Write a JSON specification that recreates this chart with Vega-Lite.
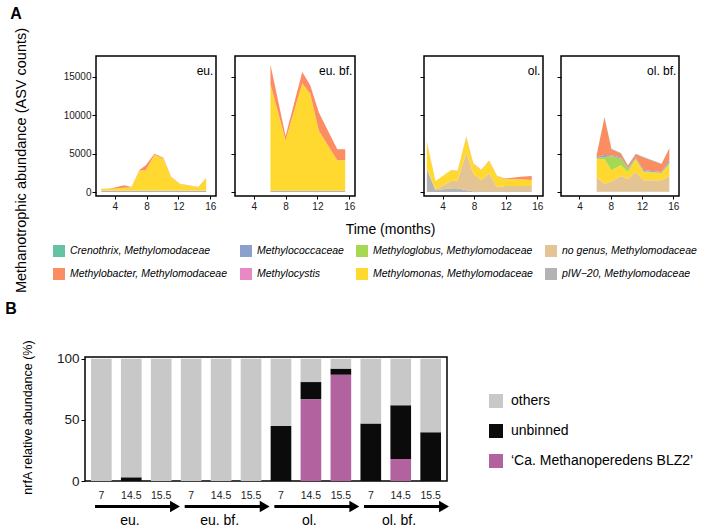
{
  "$schema": "https://vega.github.io/schema/vega-lite/v6.json",
  "background": "white",
  "padding": {"left": 5, "top": 5, "right": 5, "bottom": 0},
  "config": {
    "font": "Liberation Sans",
    "view": {"stroke": "black", "strokeWidth": 1.5},
    "axis": {"grid": false, "domain": false, "tickColor": "black", "tickSize": 4, "labelColor": "#1a1a1a", "titleColor": "black", "titleFontWeight": "normal", "labelFlush": false, "labelOverlap": false},
    "axisX": {"labelOverlap": false, "labelSeparation": 0},
    "title": {"color": "black"}
  },
  "datasets": {
    "abund": [
      {"p": "eu.", "t": 2.3, "s": "pIW−20, Methylomodaceae", "n": 120},
      {"p": "eu.", "t": 2.3, "s": "no genus, Methylomodaceae", "n": 60},
      {"p": "eu.", "t": 2.3, "s": "Methylomonas, Methylomodaceae", "n": 250},
      {"p": "eu.", "t": 3.4, "s": "pIW−20, Methylomodaceae", "n": 120},
      {"p": "eu.", "t": 3.4, "s": "no genus, Methylomodaceae", "n": 60},
      {"p": "eu.", "t": 3.4, "s": "Methylomonas, Methylomodaceae", "n": 250},
      {"p": "eu.", "t": 3.4, "s": "Methylobacter, Methylomodaceae", "n": 20},
      {"p": "eu.", "t": 5.2, "s": "pIW−20, Methylomodaceae", "n": 120},
      {"p": "eu.", "t": 5.2, "s": "no genus, Methylomodaceae", "n": 60},
      {"p": "eu.", "t": 5.2, "s": "Methylomonas, Methylomodaceae", "n": 380},
      {"p": "eu.", "t": 5.2, "s": "Methylobacter, Methylomodaceae", "n": 310},
      {"p": "eu.", "t": 6.1, "s": "pIW−20, Methylomodaceae", "n": 120},
      {"p": "eu.", "t": 6.1, "s": "no genus, Methylomodaceae", "n": 60},
      {"p": "eu.", "t": 6.1, "s": "Methylomonas, Methylomodaceae", "n": 430},
      {"p": "eu.", "t": 6.1, "s": "Methylobacter, Methylomodaceae", "n": 40},
      {"p": "eu.", "t": 7.1, "s": "pIW−20, Methylomodaceae", "n": 120},
      {"p": "eu.", "t": 7.1, "s": "no genus, Methylomodaceae", "n": 60},
      {"p": "eu.", "t": 7.1, "s": "Methylomonas, Methylomodaceae", "n": 2620},
      {"p": "eu.", "t": 7.1, "s": "Methylobacter, Methylomodaceae", "n": 80},
      {"p": "eu.", "t": 7.9, "s": "pIW−20, Methylomodaceae", "n": 120},
      {"p": "eu.", "t": 7.9, "s": "no genus, Methylomodaceae", "n": 60},
      {"p": "eu.", "t": 7.9, "s": "Methylomonas, Methylomodaceae", "n": 2640},
      {"p": "eu.", "t": 7.9, "s": "Methylobacter, Methylomodaceae", "n": 650},
      {"p": "eu.", "t": 9.0, "s": "pIW−20, Methylomodaceae", "n": 120},
      {"p": "eu.", "t": 9.0, "s": "no genus, Methylomodaceae", "n": 60},
      {"p": "eu.", "t": 9.0, "s": "Methylomonas, Methylomodaceae", "n": 4670},
      {"p": "eu.", "t": 9.0, "s": "Methylobacter, Methylomodaceae", "n": 130},
      {"p": "eu.", "t": 10.1, "s": "pIW−20, Methylomodaceae", "n": 120},
      {"p": "eu.", "t": 10.1, "s": "no genus, Methylomodaceae", "n": 60},
      {"p": "eu.", "t": 10.1, "s": "Methylomonas, Methylomodaceae", "n": 4150},
      {"p": "eu.", "t": 10.1, "s": "Methylobacter, Methylomodaceae", "n": 130},
      {"p": "eu.", "t": 11.1, "s": "pIW−20, Methylomodaceae", "n": 120},
      {"p": "eu.", "t": 11.1, "s": "no genus, Methylomodaceae", "n": 60},
      {"p": "eu.", "t": 11.1, "s": "Methylomonas, Methylomodaceae", "n": 1720},
      {"p": "eu.", "t": 11.1, "s": "Methylobacter, Methylomodaceae", "n": 50},
      {"p": "eu.", "t": 12.2, "s": "pIW−20, Methylomodaceae", "n": 120},
      {"p": "eu.", "t": 12.2, "s": "no genus, Methylomodaceae", "n": 60},
      {"p": "eu.", "t": 12.2, "s": "Methylomonas, Methylomodaceae", "n": 860},
      {"p": "eu.", "t": 12.2, "s": "Methylobacter, Methylomodaceae", "n": 40},
      {"p": "eu.", "t": 14.5, "s": "pIW−20, Methylomodaceae", "n": 120},
      {"p": "eu.", "t": 14.5, "s": "no genus, Methylomodaceae", "n": 60},
      {"p": "eu.", "t": 14.5, "s": "Methylomonas, Methylomodaceae", "n": 440},
      {"p": "eu.", "t": 14.5, "s": "Methylobacter, Methylomodaceae", "n": 30},
      {"p": "eu.", "t": 15.5, "s": "pIW−20, Methylomodaceae", "n": 120},
      {"p": "eu.", "t": 15.5, "s": "no genus, Methylomodaceae", "n": 60},
      {"p": "eu.", "t": 15.5, "s": "Methylomonas, Methylomodaceae", "n": 1580},
      {"p": "eu.", "t": 15.5, "s": "Methylobacter, Methylomodaceae", "n": 60},

      {"p": "eu. bf.", "t": 6.1, "s": "pIW−20, Methylomodaceae", "n": 150},
      {"p": "eu. bf.", "t": 6.1, "s": "Methylomonas, Methylomodaceae", "n": 13860},
      {"p": "eu. bf.", "t": 6.1, "s": "Methylobacter, Methylomodaceae", "n": 2600},
      {"p": "eu. bf.", "t": 8.0, "s": "pIW−20, Methylomodaceae", "n": 150},
      {"p": "eu. bf.", "t": 8.0, "s": "Methylomonas, Methylomodaceae", "n": 6570},
      {"p": "eu. bf.", "t": 8.0, "s": "Methylobacter, Methylomodaceae", "n": 570},
      {"p": "eu. bf.", "t": 10.1, "s": "pIW−20, Methylomodaceae", "n": 150},
      {"p": "eu. bf.", "t": 10.1, "s": "Methylomonas, Methylomodaceae", "n": 13990},
      {"p": "eu. bf.", "t": 10.1, "s": "Methylobacter, Methylomodaceae", "n": 1470},
      {"p": "eu. bf.", "t": 11.1, "s": "pIW−20, Methylomodaceae", "n": 150},
      {"p": "eu. bf.", "t": 11.1, "s": "Methylomonas, Methylomodaceae", "n": 12640},
      {"p": "eu. bf.", "t": 11.1, "s": "Methylobacter, Methylomodaceae", "n": 1090},
      {"p": "eu. bf.", "t": 12.2, "s": "pIW−20, Methylomodaceae", "n": 150},
      {"p": "eu. bf.", "t": 12.2, "s": "Methylomonas, Methylomodaceae", "n": 7790},
      {"p": "eu. bf.", "t": 12.2, "s": "Methylobacter, Methylomodaceae", "n": 2380},
      {"p": "eu. bf.", "t": 14.5, "s": "pIW−20, Methylomodaceae", "n": 150},
      {"p": "eu. bf.", "t": 14.5, "s": "Methylomonas, Methylomodaceae", "n": 3970},
      {"p": "eu. bf.", "t": 14.5, "s": "Methylobacter, Methylomodaceae", "n": 1430},
      {"p": "eu. bf.", "t": 15.5, "s": "pIW−20, Methylomodaceae", "n": 150},
      {"p": "eu. bf.", "t": 15.5, "s": "Methylomonas, Methylomodaceae", "n": 3970},
      {"p": "eu. bf.", "t": 15.5, "s": "Methylobacter, Methylomodaceae", "n": 1430},

      {"p": "ol.", "t": 2.0, "s": "pIW−20, Methylomodaceae", "n": 2950},
      {"p": "ol.", "t": 2.0, "s": "no genus, Methylomodaceae", "n": 100},
      {"p": "ol.", "t": 2.0, "s": "Methylomonas, Methylomodaceae", "n": 3390},
      {"p": "ol.", "t": 2.0, "s": "Methylobacter, Methylomodaceae", "n": 100},
      {"p": "ol.", "t": 3.1, "s": "pIW−20, Methylomodaceae", "n": 220},
      {"p": "ol.", "t": 3.1, "s": "no genus, Methylomodaceae", "n": 130},
      {"p": "ol.", "t": 3.1, "s": "Methylomonas, Methylomodaceae", "n": 1080},
      {"p": "ol.", "t": 5.1, "s": "pIW−20, Methylomodaceae", "n": 480},
      {"p": "ol.", "t": 5.1, "s": "no genus, Methylomodaceae", "n": 950},
      {"p": "ol.", "t": 5.1, "s": "Methylomonas, Methylomodaceae", "n": 1390},
      {"p": "ol.", "t": 5.1, "s": "Methylobacter, Methylomodaceae", "n": 50},
      {"p": "ol.", "t": 5.9, "s": "pIW−20, Methylomodaceae", "n": 480},
      {"p": "ol.", "t": 5.9, "s": "no genus, Methylomodaceae", "n": 1020},
      {"p": "ol.", "t": 5.9, "s": "Methylomonas, Methylomodaceae", "n": 1230},
      {"p": "ol.", "t": 5.9, "s": "Methylobacter, Methylomodaceae", "n": 50},
      {"p": "ol.", "t": 7.0, "s": "pIW−20, Methylomodaceae", "n": 220},
      {"p": "ol.", "t": 7.0, "s": "no genus, Methylomodaceae", "n": 4890},
      {"p": "ol.", "t": 7.0, "s": "Methylomonas, Methylomodaceae", "n": 1960},
      {"p": "ol.", "t": 7.0, "s": "Methylobacter, Methylomodaceae", "n": 130},
      {"p": "ol.", "t": 7.9, "s": "pIW−20, Methylomodaceae", "n": 100},
      {"p": "ol.", "t": 7.9, "s": "no genus, Methylomodaceae", "n": 2280},
      {"p": "ol.", "t": 7.9, "s": "Methylomonas, Methylomodaceae", "n": 1300},
      {"p": "ol.", "t": 7.9, "s": "Methylobacter, Methylomodaceae", "n": 60},
      {"p": "ol.", "t": 8.9, "s": "pIW−20, Methylomodaceae", "n": 100},
      {"p": "ol.", "t": 8.9, "s": "no genus, Methylomodaceae", "n": 1420},
      {"p": "ol.", "t": 8.9, "s": "Methylomonas, Methylomodaceae", "n": 1340},
      {"p": "ol.", "t": 8.9, "s": "Methylobacter, Methylomodaceae", "n": 50},
      {"p": "ol.", "t": 9.9, "s": "pIW−20, Methylomodaceae", "n": 100},
      {"p": "ol.", "t": 9.9, "s": "no genus, Methylomodaceae", "n": 2330},
      {"p": "ol.", "t": 9.9, "s": "Methylomonas, Methylomodaceae", "n": 1600},
      {"p": "ol.", "t": 9.9, "s": "Methylobacter, Methylomodaceae", "n": 80},
      {"p": "ol.", "t": 10.9, "s": "pIW−20, Methylomodaceae", "n": 100},
      {"p": "ol.", "t": 10.9, "s": "no genus, Methylomodaceae", "n": 550},
      {"p": "ol.", "t": 10.9, "s": "Methylomonas, Methylomodaceae", "n": 1430},
      {"p": "ol.", "t": 10.9, "s": "Methylobacter, Methylomodaceae", "n": 50},
      {"p": "ol.", "t": 11.9, "s": "pIW−20, Methylomodaceae", "n": 100},
      {"p": "ol.", "t": 11.9, "s": "no genus, Methylomodaceae", "n": 680},
      {"p": "ol.", "t": 11.9, "s": "Methylomonas, Methylomodaceae", "n": 870},
      {"p": "ol.", "t": 11.9, "s": "Methylobacter, Methylomodaceae", "n": 100},
      {"p": "ol.", "t": 13.9, "s": "pIW−20, Methylomodaceae", "n": 100},
      {"p": "ol.", "t": 13.9, "s": "no genus, Methylomodaceae", "n": 680},
      {"p": "ol.", "t": 13.9, "s": "Methylomonas, Methylomodaceae", "n": 870},
      {"p": "ol.", "t": 13.9, "s": "Methylobacter, Methylomodaceae", "n": 340},
      {"p": "ol.", "t": 15.3, "s": "pIW−20, Methylomodaceae", "n": 100},
      {"p": "ol.", "t": 15.3, "s": "no genus, Methylomodaceae", "n": 680},
      {"p": "ol.", "t": 15.3, "s": "Methylomonas, Methylomodaceae", "n": 780},
      {"p": "ol.", "t": 15.3, "s": "Methylobacter, Methylomodaceae", "n": 520},

      {"p": "ol. bf.", "t": 6.2, "s": "pIW−20, Methylomodaceae", "n": 50},
      {"p": "ol. bf.", "t": 6.2, "s": "no genus, Methylomodaceae", "n": 1900},
      {"p": "ol. bf.", "t": 6.2, "s": "Methylomonas, Methylomodaceae", "n": 2380},
      {"p": "ol. bf.", "t": 6.2, "s": "Methyloglobus, Methylomodaceae", "n": 100},
      {"p": "ol. bf.", "t": 6.2, "s": "Methylococcaceae", "n": 100},
      {"p": "ol. bf.", "t": 6.2, "s": "Methylobacter, Methylomodaceae", "n": 270},
      {"p": "ol. bf.", "t": 6.2, "s": "Crenothrix, Methylomodaceae", "n": 50},
      {"p": "ol. bf.", "t": 7.2, "s": "pIW−20, Methylomodaceae", "n": 50},
      {"p": "ol. bf.", "t": 7.2, "s": "no genus, Methylomodaceae", "n": 1030},
      {"p": "ol. bf.", "t": 7.2, "s": "Methylomonas, Methylomodaceae", "n": 3170},
      {"p": "ol. bf.", "t": 7.2, "s": "Methyloglobus, Methylomodaceae", "n": 300},
      {"p": "ol. bf.", "t": 7.2, "s": "Methylococcaceae", "n": 250},
      {"p": "ol. bf.", "t": 7.2, "s": "Methylobacter, Methylomodaceae", "n": 4900},
      {"p": "ol. bf.", "t": 7.2, "s": "Crenothrix, Methylomodaceae", "n": 50},
      {"p": "ol. bf.", "t": 8.1, "s": "pIW−20, Methylomodaceae", "n": 50},
      {"p": "ol. bf.", "t": 8.1, "s": "no genus, Methylomodaceae", "n": 1340},
      {"p": "ol. bf.", "t": 8.1, "s": "Methylomonas, Methylomodaceae", "n": 1430},
      {"p": "ol. bf.", "t": 8.1, "s": "Methyloglobus, Methylomodaceae", "n": 1860},
      {"p": "ol. bf.", "t": 8.1, "s": "Methylococcaceae", "n": 90},
      {"p": "ol. bf.", "t": 8.1, "s": "Methylobacter, Methylomodaceae", "n": 810},
      {"p": "ol. bf.", "t": 8.1, "s": "Crenothrix, Methylomodaceae", "n": 50},
      {"p": "ol. bf.", "t": 9.3, "s": "pIW−20, Methylomodaceae", "n": 50},
      {"p": "ol. bf.", "t": 9.3, "s": "no genus, Methylomodaceae", "n": 2030},
      {"p": "ol. bf.", "t": 9.3, "s": "Methylomonas, Methylomodaceae", "n": 1390},
      {"p": "ol. bf.", "t": 9.3, "s": "Methyloglobus, Methylomodaceae", "n": 860},
      {"p": "ol. bf.", "t": 9.3, "s": "Methylococcaceae", "n": 150},
      {"p": "ol. bf.", "t": 9.3, "s": "Methylobacter, Methylomodaceae", "n": 540},
      {"p": "ol. bf.", "t": 9.3, "s": "Crenothrix, Methylomodaceae", "n": 50},
      {"p": "ol. bf.", "t": 10.2, "s": "pIW−20, Methylomodaceae", "n": 50},
      {"p": "ol. bf.", "t": 10.2, "s": "no genus, Methylomodaceae", "n": 1680},
      {"p": "ol. bf.", "t": 10.2, "s": "Methylomonas, Methylomodaceae", "n": 870},
      {"p": "ol. bf.", "t": 10.2, "s": "Methyloglobus, Methylomodaceae", "n": 430},
      {"p": "ol. bf.", "t": 10.2, "s": "Methylococcaceae", "n": 100},
      {"p": "ol. bf.", "t": 10.2, "s": "Methylobacter, Methylomodaceae", "n": 290},
      {"p": "ol. bf.", "t": 10.2, "s": "Crenothrix, Methylomodaceae", "n": 50},
      {"p": "ol. bf.", "t": 11.2, "s": "pIW−20, Methylomodaceae", "n": 50},
      {"p": "ol. bf.", "t": 11.2, "s": "no genus, Methylomodaceae", "n": 2550},
      {"p": "ol. bf.", "t": 11.2, "s": "Methylomonas, Methylomodaceae", "n": 1730},
      {"p": "ol. bf.", "t": 11.2, "s": "Methylococcaceae", "n": 200},
      {"p": "ol. bf.", "t": 11.2, "s": "Methylobacter, Methylomodaceae", "n": 400},
      {"p": "ol. bf.", "t": 11.2, "s": "Crenothrix, Methylomodaceae", "n": 50},
      {"p": "ol. bf.", "t": 12.2, "s": "pIW−20, Methylomodaceae", "n": 50},
      {"p": "ol. bf.", "t": 12.2, "s": "no genus, Methylomodaceae", "n": 1470},
      {"p": "ol. bf.", "t": 12.2, "s": "Methylomonas, Methylomodaceae", "n": 1080},
      {"p": "ol. bf.", "t": 12.2, "s": "Methyloglobus, Methylomodaceae", "n": 100},
      {"p": "ol. bf.", "t": 12.2, "s": "Methylococcaceae", "n": 150},
      {"p": "ol. bf.", "t": 12.2, "s": "Methylobacter, Methylomodaceae", "n": 1650},
      {"p": "ol. bf.", "t": 12.2, "s": "Crenothrix, Methylomodaceae", "n": 50},
      {"p": "ol. bf.", "t": 14.5, "s": "pIW−20, Methylomodaceae", "n": 50},
      {"p": "ol. bf.", "t": 14.5, "s": "no genus, Methylomodaceae", "n": 1470},
      {"p": "ol. bf.", "t": 14.5, "s": "Methylomonas, Methylomodaceae", "n": 950},
      {"p": "ol. bf.", "t": 14.5, "s": "Methyloglobus, Methylomodaceae", "n": 50},
      {"p": "ol. bf.", "t": 14.5, "s": "Methylococcaceae", "n": 80},
      {"p": "ol. bf.", "t": 14.5, "s": "Methylobacter, Methylomodaceae", "n": 1030},
      {"p": "ol. bf.", "t": 14.5, "s": "Crenothrix, Methylomodaceae", "n": 50},
      {"p": "ol. bf.", "t": 15.5, "s": "pIW−20, Methylomodaceae", "n": 50},
      {"p": "ol. bf.", "t": 15.5, "s": "no genus, Methylomodaceae", "n": 2030},
      {"p": "ol. bf.", "t": 15.5, "s": "Methylomonas, Methylomodaceae", "n": 1600},
      {"p": "ol. bf.", "t": 15.5, "s": "Methyloglobus, Methylomodaceae", "n": 150},
      {"p": "ol. bf.", "t": 15.5, "s": "Methylococcaceae", "n": 370},
      {"p": "ol. bf.", "t": 15.5, "s": "Methylobacter, Methylomodaceae", "n": 1470},
      {"p": "ol. bf.", "t": 15.5, "s": "Crenothrix, Methylomodaceae", "n": 50}
    ],
    "nrfa": [
      {"sample": "eu. 7", "c": "others", "v": 100},
      {"sample": "eu. 14.5", "c": "unbinned", "v": 3},
      {"sample": "eu. 14.5", "c": "others", "v": 97},
      {"sample": "eu. 15.5", "c": "others", "v": 100},
      {"sample": "eu. bf. 7", "c": "others", "v": 100},
      {"sample": "eu. bf. 14.5", "c": "others", "v": 100},
      {"sample": "eu. bf. 15.5", "c": "others", "v": 100},
      {"sample": "ol. 7", "c": "unbinned", "v": 45},
      {"sample": "ol. 7", "c": "others", "v": 55},
      {"sample": "ol. 14.5", "c": "‘Ca. Methanoperedens BLZ2’", "v": 67},
      {"sample": "ol. 14.5", "c": "unbinned", "v": 14},
      {"sample": "ol. 14.5", "c": "others", "v": 19},
      {"sample": "ol. 15.5", "c": "‘Ca. Methanoperedens BLZ2’", "v": 87},
      {"sample": "ol. 15.5", "c": "unbinned", "v": 5},
      {"sample": "ol. 15.5", "c": "others", "v": 8},
      {"sample": "ol. bf. 7", "c": "unbinned", "v": 47},
      {"sample": "ol. bf. 7", "c": "others", "v": 53},
      {"sample": "ol. bf. 14.5", "c": "‘Ca. Methanoperedens BLZ2’", "v": 18},
      {"sample": "ol. bf. 14.5", "c": "unbinned", "v": 44},
      {"sample": "ol. bf. 14.5", "c": "others", "v": 38},
      {"sample": "ol. bf. 15.5", "c": "unbinned", "v": 40},
      {"sample": "ol. bf. 15.5", "c": "others", "v": 60}
    ]
  },
  "concat": [
    {
      "title": {"text": "A", "anchor": "start", "fontSize": 16, "fontWeight": "bold", "dx": -2, "offset": 5},
      "hconcat": [
        {"width": 11, "height": 140, "data": {"values": [{}]}, "view": {"stroke": null}, "mark": {"type": "text", "text": ""}},
        {
          "width": 120, "height": 140,
          "data": {"name": "abund"},
          "transform": [{"filter": "datum.p === 'eu.'"}],
          "layer": [
            {
              "mark": {"type": "area", "opacity": 1},
              "encoding": {
                "x": {"field": "t", "type": "quantitative", "scale": {"domain": [1.64, 16.73], "nice": false, "zero": false}, "axis": {"values": [4, 8, 12, 16], "labelOverlap": false, "title": null, "labelFontSize": 10, "tickSize": 3, "labelPadding": 2}},
                "y": {"field": "n", "type": "quantitative", "stack": "zero", "scale": {"domain": [-520, 17700], "nice": false}, "axis": {"values": [0, 5000, 10000, 15000], "labelOverlap": false, "format": "d", "labelFontSize": 10, "labelPadding": 1, "title": "Methanotrophic abundance (ASV counts)", "titleFontSize": 14.5, "titleAngle": 270, "titleBaseline": "bottom", "titleAlign": "center", "titleX": -68, "titleY": 104}},
                "color": {"field": "s", "type": "nominal",
                  "scale": {"domain": ["Crenothrix, Methylomodaceae", "Methylobacter, Methylomodaceae", "Methylococcaceae", "Methylocystis", "Methyloglobus, Methylomodaceae", "Methylomonas, Methylomodaceae", "no genus, Methylomodaceae", "pIW−20, Methylomodaceae"],
                            "range": ["#66c2a5", "#fc8d62", "#8da0cb", "#e78ac3", "#a6d854", "#ffd92f", "#e5c494", "#b3b3b3"]},
                  "legend": {"orient": "none", "legendX": -32, "legendY": 189, "direction": "horizontal", "columns": 4, "title": null,
                    "values": ["Crenothrix, Methylomodaceae", "Methylococcaceae", "Methyloglobus, Methylomodaceae", "no genus, Methylomodaceae", "Methylobacter, Methylomodaceae", "Methylocystis", "Methylomonas, Methylomodaceae", "pIW−20, Methylomodaceae"],
                    "symbolType": "square", "symbolSize": 144, "symbolStrokeWidth": 0, "symbolOpacity": 1,
                    "labelFontSize": 10.5, "labelFontStyle": "italic", "labelColor": "black", "labelOffset": 5, "labelLimit": 300,
                    "columnPadding": 12, "rowPadding": 11}},
                "order": {"field": "s", "sort": "descending"}
              }
            },
            {
              "data": {"values": [{"lab": "eu."}]},
              "mark": {"type": "text", "align": "right", "baseline": "alphabetic", "fontSize": 12, "color": "black"},
              "encoding": {
                "x": {"datum": 16.4, "type": "quantitative", "axis": {"values": [4, 8, 12, 16], "labelOverlap": false, "title": null, "labelFontSize": 10, "tickSize": 3, "labelPadding": 2}},
                "y": {"datum": 15200, "type": "quantitative", "axis": {"values": [0, 5000, 10000, 15000], "labelOverlap": false, "format": "d", "labelFontSize": 10, "labelPadding": 1, "title": "Methanotrophic abundance (ASV counts)", "titleFontSize": 14.5, "titleAngle": 270, "titleBaseline": "bottom", "titleAlign": "center", "titleX": -68, "titleY": 104}},
                "text": {"field": "lab"}
              }
            }
          ]
        },
        {"width": 19, "height": 140, "data": {"values": [{}]}, "view": {"stroke": null}, "mark": {"type": "text", "text": ""}},
        {
          "width": 120, "height": 140,
          "data": {"name": "abund"},
          "transform": [{"filter": "datum.p === 'eu. bf.'"}],
          "layer": [
            {
              "mark": {"type": "area", "opacity": 1},
              "encoding": {
                "x": {"field": "t", "type": "quantitative", "scale": {"domain": [1.64, 16.73], "nice": false, "zero": false}, "axis": {"values": [4, 8, 12, 16], "labelOverlap": false, "labelFontSize": 10, "tickSize": 3, "labelPadding": 2, "title": "Time (months)", "titleFontSize": 14, "titleBaseline": "alphabetic", "titleAlign": "center", "titleX": 155, "titleY": 37}},
                "y": {"field": "n", "type": "quantitative", "stack": "zero", "scale": {"domain": [-520, 17700], "nice": false}, "axis": {"values": [0, 5000, 10000, 15000], "labels": false, "title": null}},
                "color": {"field": "s", "type": "nominal",
                  "scale": {"domain": ["Crenothrix, Methylomodaceae", "Methylobacter, Methylomodaceae", "Methylococcaceae", "Methylocystis", "Methyloglobus, Methylomodaceae", "Methylomonas, Methylomodaceae", "no genus, Methylomodaceae", "pIW−20, Methylomodaceae"],
                            "range": ["#66c2a5", "#fc8d62", "#8da0cb", "#e78ac3", "#a6d854", "#ffd92f", "#e5c494", "#b3b3b3"]}},
                "order": {"field": "s", "sort": "descending"}
              }
            },
            {
              "data": {"values": [{"lab": "eu. bf."}]},
              "mark": {"type": "text", "align": "right", "baseline": "alphabetic", "fontSize": 12, "color": "black"},
              "encoding": {
                "x": {"datum": 16.4, "type": "quantitative", "axis": {"values": [4, 8, 12, 16], "labelOverlap": false, "labelFontSize": 10, "tickSize": 3, "labelPadding": 2, "title": "Time (months)", "titleFontSize": 14, "titleBaseline": "alphabetic", "titleAlign": "center", "titleX": 155, "titleY": 37}},
                "y": {"datum": 15200, "type": "quantitative", "axis": {"values": [0, 5000, 10000, 15000], "labels": false, "title": null}},
                "text": {"field": "lab"}
              }
            }
          ]
        },
        {"width": 69, "height": 140, "data": {"values": [{}]}, "view": {"stroke": null}, "mark": {"type": "text", "text": ""}},
        {
          "width": 119, "height": 140,
          "data": {"name": "abund"},
          "transform": [{"filter": "datum.p === 'ol.'"}],
          "layer": [
            {
              "mark": {"type": "area", "opacity": 1},
              "encoding": {
                "x": {"field": "t", "type": "quantitative", "scale": {"domain": [1.64, 16.73], "nice": false, "zero": false}, "axis": {"values": [4, 8, 12, 16], "labelOverlap": false, "title": null, "labelFontSize": 10, "tickSize": 3, "labelPadding": 2}},
                "y": {"field": "n", "type": "quantitative", "stack": "zero", "scale": {"domain": [-520, 17700], "nice": false}, "axis": {"values": [0, 5000, 10000, 15000], "labels": false, "title": null}},
                "color": {"field": "s", "type": "nominal",
                  "scale": {"domain": ["Crenothrix, Methylomodaceae", "Methylobacter, Methylomodaceae", "Methylococcaceae", "Methylocystis", "Methyloglobus, Methylomodaceae", "Methylomonas, Methylomodaceae", "no genus, Methylomodaceae", "pIW−20, Methylomodaceae"],
                            "range": ["#66c2a5", "#fc8d62", "#8da0cb", "#e78ac3", "#a6d854", "#ffd92f", "#e5c494", "#b3b3b3"]}},
                "order": {"field": "s", "sort": "descending"}
              }
            },
            {
              "data": {"values": [{"lab": "ol."}]},
              "mark": {"type": "text", "align": "right", "baseline": "alphabetic", "fontSize": 12, "color": "black"},
              "encoding": {
                "x": {"datum": 16.4, "type": "quantitative", "axis": {"values": [4, 8, 12, 16], "labelOverlap": false, "title": null, "labelFontSize": 10, "tickSize": 3, "labelPadding": 2}},
                "y": {"datum": 15200, "type": "quantitative", "axis": {"values": [0, 5000, 10000, 15000], "labels": false, "title": null}},
                "text": {"field": "lab"}
              }
            }
          ]
        },
        {"width": 18, "height": 140, "data": {"values": [{}]}, "view": {"stroke": null}, "mark": {"type": "text", "text": ""}},
        {
          "width": 118, "height": 140,
          "data": {"name": "abund"},
          "transform": [{"filter": "datum.p === 'ol. bf.'"}],
          "layer": [
            {
              "mark": {"type": "area", "opacity": 1},
              "encoding": {
                "x": {"field": "t", "type": "quantitative", "scale": {"domain": [1.64, 16.73], "nice": false, "zero": false}, "axis": {"values": [4, 8, 12, 16], "labelOverlap": false, "title": null, "labelFontSize": 10, "tickSize": 3, "labelPadding": 2}},
                "y": {"field": "n", "type": "quantitative", "stack": "zero", "scale": {"domain": [-520, 17700], "nice": false}, "axis": {"values": [0, 5000, 10000, 15000], "labels": false, "title": null}},
                "color": {"field": "s", "type": "nominal",
                  "scale": {"domain": ["Crenothrix, Methylomodaceae", "Methylobacter, Methylomodaceae", "Methylococcaceae", "Methylocystis", "Methyloglobus, Methylomodaceae", "Methylomonas, Methylomodaceae", "no genus, Methylomodaceae", "pIW−20, Methylomodaceae"],
                            "range": ["#66c2a5", "#fc8d62", "#8da0cb", "#e78ac3", "#a6d854", "#ffd92f", "#e5c494", "#b3b3b3"]}},
                "order": {"field": "s", "sort": "descending"}
              }
            },
            {
              "data": {"values": [{"lab": "ol. bf."}]},
              "mark": {"type": "text", "align": "right", "baseline": "alphabetic", "fontSize": 12, "color": "black"},
              "encoding": {
                "x": {"datum": 16.4, "type": "quantitative", "axis": {"values": [4, 8, 12, 16], "labelOverlap": false, "title": null, "labelFontSize": 10, "tickSize": 3, "labelPadding": 2}},
                "y": {"datum": 15200, "type": "quantitative", "axis": {"values": [0, 5000, 10000, 15000], "labels": false, "title": null}},
                "text": {"field": "lab"}
              }
            }
          ]
        }
      ],
      "spacing": 0,
      "bounds": "flush"
    },
    {
      "title": {"text": "B", "anchor": "start", "fontSize": 16, "fontWeight": "bold", "dx": -15, "offset": 22},
      "vconcat": [
        {
          "width": 362, "height": 124,
          "data": {"name": "nrfa"},
          "mark": {"type": "bar"},
          "encoding": {
            "x": {"field": "sample", "type": "nominal", "sort": null, "scale": {"paddingInner": 0.31, "paddingOuter": 0.2},
              "axis": {"title": null, "labelAngle": 0, "ticks": false, "tickSize": 0, "labelPadding": 9, "labelFontSize": 10.5, "labelColor": "#222", "labelExpr": "peek(split(datum.label, ' '))"}},
            "y": {"field": "v", "type": "quantitative", "stack": "zero", "scale": {"domain": [0, 101.5], "nice": false},
              "axis": {"values": [0, 50, 100], "labelFontSize": 13.5, "labelPadding": 2, "title": "nrfA relative abundance (%)", "titleFontSize": 12.5, "titleAngle": 270, "titleBaseline": "bottom", "titleAlign": "center", "titleX": -51, "titleY": 60}},
            "color": {"field": "c", "type": "nominal",
              "scale": {"domain": ["others", "unbinned", "‘Ca. Methanoperedens BLZ2’"], "range": ["#c8c8c8", "#0b0b0b", "#b1629f"]},
              "legend": {"orient": "none", "legendX": 404, "legendY": 37, "title": null, "symbolType": "square", "symbolSize": 196, "symbolStrokeWidth": 0, "symbolOpacity": 1, "labelFontSize": 14, "labelColor": "black", "labelOffset": 8, "labelLimit": 300, "rowPadding": 16}},
            "order": {"field": "c", "sort": "descending"}
          }
        },
        {
          "width": 362, "height": 33,
          "data": {"values": [{"g": "eu."}, {"g": "eu. bf."}, {"g": "ol."}, {"g": "ol. bf."}]},
          "view": {"stroke": null},
          "encoding": {
            "x": {"field": "g", "type": "nominal", "sort": null, "scale": {"paddingInner": 0.108, "paddingOuter": 0.0725, "align": 0.77}, "axis": null}
          },
          "layer": [
            {
              "mark": {"type": "bar", "color": "black"},
              "encoding": {
                "y": {"datum": 0.635, "type": "quantitative", "scale": {"domain": [0, 1], "nice": false}, "axis": null},
                "y2": {"datum": 0.725}
              }
            },
            {
              "mark": {"type": "point", "shape": "triangle-right", "filled": true, "color": "black", "opacity": 1, "size": 130, "dx": -5.5},
              "encoding": {
                "x": {"field": "g", "type": "nominal", "sort": null, "bandPosition": 1},
                "y": {"datum": 0.68, "type": "quantitative"}
              }
            },
            {
              "mark": {"type": "text", "fontSize": 14, "baseline": "alphabetic", "color": "black", "dx": -5},
              "encoding": {
                "text": {"field": "g"},
                "y": {"datum": 0.12, "type": "quantitative"}
              }
            }
          ]
        }
      ],
      "spacing": 15,
      "bounds": "flush"
    }
  ],
  "columns": 1,
  "spacing": 6,
  "resolve": {"scale": {"color": "independent"}}
}
